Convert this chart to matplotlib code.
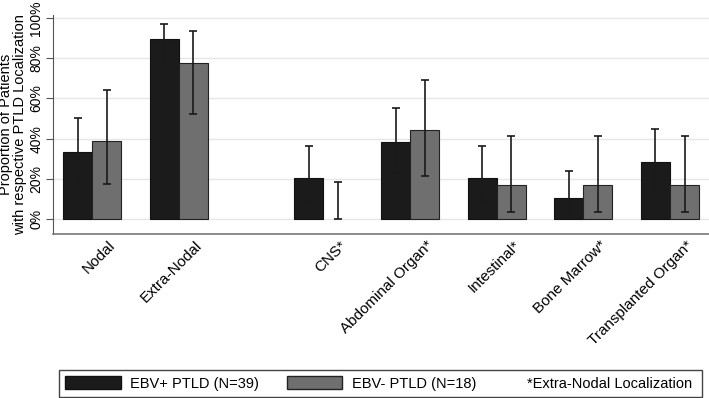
import numpy as np
import matplotlib
matplotlib.use('Agg')
import matplotlib.pyplot as plt
import matplotlib.transforms as mtransforms
from matplotlib.patches import Patch, Rectangle

plt.rcParams['font.family'] = ['Liberation Sans', 'DejaVu Sans']

# data (percent)
sites = ['Nodal', 'Extra-Nodal', 'CNS*', 'Abdominal Organ*', 'Intestinal*',
         'Bone Marrow*', 'Transplanted Organ*']
ebv_pos = [33.3, 89.7, 20.5, 38.5, 20.5, 10.3, 28.2]
ebv_pos_lo = [18.7, 75.8, 9.5, 23.0, 9.5, 2.5, 14.8]
ebv_pos_hi = [50.2, 97.2, 36.5, 55.4, 36.5, 24.0, 44.8]
ebv_neg = [38.9, 77.8, 0.0, 44.4, 16.7, 16.7, 16.7]
ebv_neg_lo = [17.3, 52.2, 0.0, 21.4, 3.3, 3.3, 3.3]
ebv_neg_hi = [64.2, 93.7, 18.6, 69.2, 41.4, 41.4, 41.4]
legend_labels = ['EBV+ PTLD (N=39)', 'EBV- PTLD (N=18)']
note = '*Extra-Nodal Localization'

# group positions: gap between nodal/extra-nodal block and the organ sites
pos = np.array([0, 1, 2.67, 3.67, 4.67, 5.67, 6.67])
w = 0.335
FS = 11

fig = plt.figure(figsize=(7.09, 3.98), dpi=100)
ax = fig.add_axes([0.0748, 0.412, 0.9252, 0.550])

err_kw = dict(ecolor='#1a1a1a', elinewidth=1.2, capsize=2.6, capthick=1.2)
ax.bar(pos - w/2, ebv_pos, w, color='#1b1b1b', edgecolor='#111111', linewidth=0.8, zorder=2)
# no outline on empty bars (CNS, EBV-)
ax.bar(pos + w/2, ebv_neg, w, color='#6f6f6f', edgecolor='#222222',
       linewidth=[0.8 if v > 0 else 0 for v in ebv_neg], zorder=2)
ax.errorbar(pos - w/2, ebv_pos,
            yerr=[np.array(ebv_pos) - ebv_pos_lo, np.array(ebv_pos_hi) - ebv_pos],
            fmt='none', zorder=3, **err_kw)
ax.errorbar(pos + w/2, ebv_neg,
            yerr=[np.array(ebv_neg) - ebv_neg_lo, np.array(ebv_neg_hi) - ebv_neg],
            fmt='none', zorder=3, **err_kw)

ax.set_xlim(-0.45, 7.12)
ax.set_ylim(-7.5, 101.5)
ax.set_yticks(range(0, 101, 20))
ax.set_yticklabels([f'{v}%' for v in range(0, 101, 20)], rotation=90, va='center', fontsize=10)
ax.yaxis.grid(True, color='#e6e6e6', linewidth=1.0, zorder=0)
ax.set_axisbelow(True)

# x labels drawn as text so they can be nudged right like the original
ax.set_xticks(pos)
ax.set_xticklabels([])
ax.tick_params(axis='x', length=0)
trans = mtransforms.blended_transform_factory(ax.transData, ax.transAxes) + \
  mtransforms.ScaledTranslation(16/100, -4/100, fig.dpi_scale_trans)
for x, s in zip(pos, sites):
  ax.text(x, 0, s, transform=trans, rotation=45, ha='right', va='top',
          rotation_mode='anchor', fontsize=FS)
ax.tick_params(axis='y', length=5, color='#555555', pad=2)

for s in ['top', 'right']:
  ax.spines[s].set_visible(False)
ax.spines['left'].set_color('#555555')
ax.spines['bottom'].set_color('#777777')
ax.spines['bottom'].set_linewidth(1.2)

ax.set_ylabel('Proportion of Patients\nwith respective PTLD Localization', fontsize=10.5, labelpad=2, linespacing=0.95)

# legend box drawn by hand
W, H = 709, 398
fig.patches.append(Rectangle((59/W, 1/H), 643/W, 27/H, transform=fig.transFigure,
                             facecolor='white', edgecolor='#444444', linewidth=1.0))
handles = [Patch(facecolor='#1b1b1b', edgecolor='#111111'),
           Patch(facecolor='#6f6f6f', edgecolor='#222222')]
fig.legend(handles, legend_labels, loc='center left', ncol=2,
           bbox_to_anchor=(61/W, 14.5/H), fontsize=10.5, handlelength=3.8,
           handleheight=1.0, handletextpad=0.65, columnspacing=1.9,
           borderaxespad=0, borderpad=0.3, frameon=False)
fig.text(527/W, 14.5/H, note, ha='left', va='center', fontsize=10.5)

fig.savefig('out.png', dpi=100)
